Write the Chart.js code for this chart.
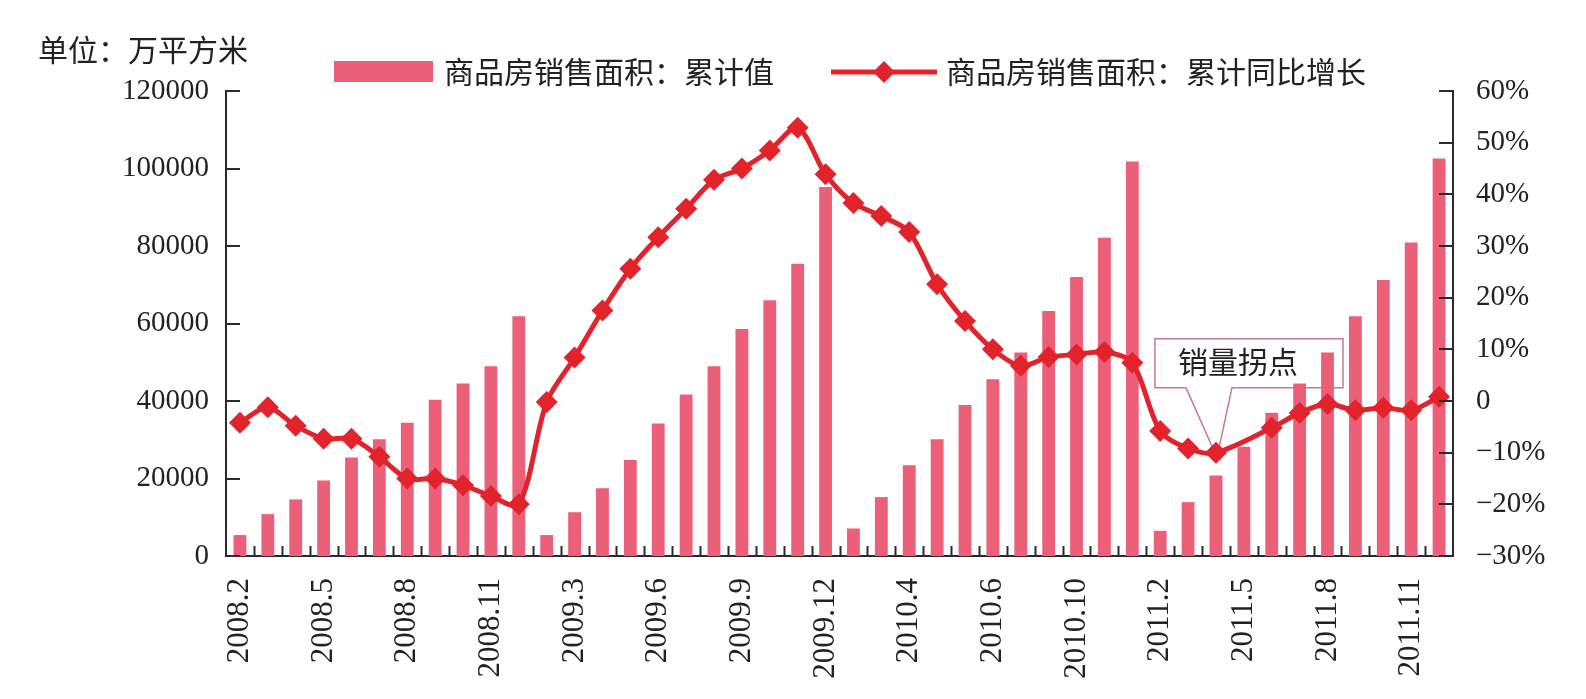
<!DOCTYPE html>
<html>
<head>
<meta charset="utf-8">
<script src="https://cdn.jsdelivr.net/npm/chart.js@4.4.1/dist/chart.umd.min.js"></script>
<style>
  html, body { margin: 0; padding: 0; background: #fff; }
  #wrap { width: 1586px; height: 699px; }
</style>
</head>
<body>
<div id="wrap"><canvas id="salesChart"></canvas></div>
<script>
// monthly data, Jan is merged into Feb in the source stats
const categories = [
  '2008.2', '2008.3', '2008.4', '2008.5', '2008.6', '2008.7', '2008.8', '2008.9', '2008.10', '2008.11', '2008.12',
  '2009.2', '2009.3', '2009.4', '2009.5', '2009.6', '2009.7', '2009.8', '2009.9', '2009.10', '2009.11', '2009.12',
  '2010.2', '2010.3', '2010.4', '2010.5', '2010.6', '2010.7', '2010.8', '2010.9', '2010.10', '2010.11', '2010.12',
  '2011.2', '2011.3', '2011.4', '2011.5', '2011.6', '2011.7', '2011.8', '2011.9', '2011.10', '2011.11', '2011.12'
];
// labels shown under every third bar (as printed in the original)
const tickLabels = ['2008.2', '2008.5', '2008.8', '2008.11', '2009.3', '2009.6', '2009.9', '2009.12',
  '2010.4', '2010.6', '2010.10', '2011.2', '2011.5', '2011.8', '2011.11'];

// 商品房销售面积：累计值 (万平方米)
const salesArea = [
  5400, 10800, 14600, 19500, 25400, 30100, 34400, 40300, 44500, 49000, 61900,
  5400, 11300, 17500, 24800, 34200, 41700, 49000, 58600, 66000, 75400, 95200,
  7100, 15200, 23400, 30100, 39000, 45600, 52500, 63200, 72000, 82100, 101800,
  6500, 13900, 20800, 28200, 37000, 44500, 52500, 61900, 71200, 80900, 102600
];
// 商品房销售面积：累计同比增长 (%)
const salesGrowth = [
  -4.2, -1.2, -4.8, -7.3, -7.3, -10.8, -15.0, -15.0, -16.3, -18.4, -20.0,
  -0.2, 8.4, 17.5, 25.6, 31.7, 37.2, 42.8, 45.0, 48.5, 52.9, 43.9,
  38.3, 35.8, 32.7, 22.6, 15.5, 10.0, 6.8, 8.5, 9.0, 9.5, 7.4,
  -5.8, -9.2, -10.0, null, -5.2, -2.3, -0.6, -1.8, -1.3, -1.8, 0.8
];

const areaTicks = [0, 20000, 40000, 60000, 80000, 100000, 120000];
const growthTicks = [-30, -20, -10, 0, 10, 20, 30, 40, 50, 60];

const unitText = '单位：万平方米';
const turnIndex = 35;
const turnText = '销量拐点';

const barColor = '#ec5f79';
const lineColor = '#e3232b';
const axisColor = '#2b2b2b';
const textColor = '#222';
const serif = "'Liberation Serif', 'Times New Roman', 'Noto Sans CJK SC', serif";
const cjk = "'Noto Sans CJK SC', 'Liberation Serif', serif";

function drawDiamond(ctx, x, y, r) {
  ctx.beginPath();
  ctx.moveTo(x - r, y);
  ctx.lineTo(x, y - r);
  ctx.lineTo(x + r, y);
  ctx.lineTo(x, y + r);
  ctx.closePath();
  ctx.fill();
}

// callout box, drawn under the bars
const calloutPlugin = {
  id: 'callout',
  beforeDatasetsDraw(chart) {
    const ctx = chart.ctx;
    const x = chart.scales.x.getPixelForValue(turnIndex);
    const y = chart.scales.y1.getPixelForValue(salesGrowth[turnIndex]);
    const left = x - 61, right = x + 127, top = y - 114, bottom = y - 65;
    ctx.save();
    ctx.strokeStyle = '#c87890';
    ctx.lineWidth = 1.5;
    ctx.beginPath();
    ctx.moveTo(x - 30, bottom);
    ctx.lineTo(left, bottom);
    ctx.lineTo(left, top);
    ctx.lineTo(right, top);
    ctx.lineTo(right, bottom);
    ctx.lineTo(x + 16, bottom);
    ctx.lineTo(x + 1, y + 5);
    ctx.lineTo(x - 30, bottom);
    ctx.stroke();
    ctx.fillStyle = textColor;
    ctx.font = '30px ' + cjk;
    ctx.textAlign = 'center';
    ctx.textBaseline = 'middle';
    ctx.fillText(turnText, x + 22, y - 91);
    ctx.restore();
  }
};

// inward tick marks, legend and unit label
const decorPlugin = {
  id: 'decor',
  afterDraw(chart) {
    const ctx = chart.ctx;
    const area = chart.chartArea;
    const y = chart.scales.y, y1 = chart.scales.y1;
    ctx.save();
    ctx.strokeStyle = axisColor;
    ctx.lineWidth = 2;
    ctx.beginPath();
    const n = categories.length;
    for (let i = 1; i < n; i++) {
      const px = Math.round(area.left + i * (area.right - area.left) / n) + 0.5;
      ctx.moveTo(px, area.bottom);
      ctx.lineTo(px, area.bottom - 10);
    }
    areaTicks.forEach(v => {
      const py = Math.round(y.getPixelForValue(v));
      ctx.moveTo(area.left, py);
      ctx.lineTo(area.left + 14, py);
    });
    growthTicks.forEach(v => {
      const py = Math.round(y1.getPixelForValue(v));
      ctx.moveTo(area.right, py);
      ctx.lineTo(area.right - 14, py);
    });
    ctx.stroke();

    // unit
    ctx.fillStyle = textColor;
    ctx.font = '30px ' + cjk;
    ctx.textBaseline = 'middle';
    ctx.textAlign = 'left';
    ctx.fillText(unitText, 38, 50);

    // legend
    const ds = chart.data.datasets;
    ctx.fillStyle = barColor;
    ctx.fillRect(334, 61, 99, 21);
    ctx.fillStyle = textColor;
    ctx.fillText(ds[1].label, 444, 72);

    ctx.strokeStyle = lineColor;
    ctx.lineWidth = 5;
    ctx.beginPath();
    ctx.moveTo(831, 72);
    ctx.lineTo(937, 72);
    ctx.stroke();
    ctx.fillStyle = lineColor;
    drawDiamond(ctx, 884, 72, 11);
    ctx.fillStyle = textColor;
    ctx.fillText(ds[0].label, 946, 72);
    ctx.restore();
  }
};

const ctx = document.getElementById('salesChart').getContext('2d');

const salesChart = new Chart(ctx, {
  data: {
    labels: categories,
    datasets: [
      {
        type: 'line',
        label: '商品房销售面积：累计同比增长',
        data: salesGrowth,
        yAxisID: 'y1',
        borderColor: lineColor,
        backgroundColor: lineColor,
        borderWidth: 5,
        tension: 0.3,
        spanGaps: true,
        pointStyle: 'rectRot',
        pointRadius: 11,
        pointBorderWidth: 0,
        pointBackgroundColor: lineColor,
        order: 0
      },
      {
        type: 'bar',
        label: '商品房销售面积：累计值',
        data: salesArea,
        yAxisID: 'y',
        backgroundColor: barColor,
        categoryPercentage: 1,
        barPercentage: 0.46,
        order: 1
      }
    ]
  },
  options: {
    responsive: true,
    maintainAspectRatio: false,
    animation: false,
    layout: {
      padding: { top: 91, left: 0, right: 0, bottom: 0 }
    },
    plugins: {
      legend: { display: false },
      tooltip: { enabled: false }
    },
    scales: {
      x: {
        grid: { display: false, drawTicks: false },
        border: { display: true, color: axisColor, width: 2 },
        ticks: {
          autoSkip: false,
          minRotation: 90,
          maxRotation: 90,
          padding: 22,
          color: textColor,
          font: { family: serif, size: 31 },
          callback: function (value, index) {
            return index % 3 === 0 ? tickLabels[index / 3] : '';
          }
        },
        afterFit: function (scale) { scale.height = 699 - 556; }
      },
      y: {
        position: 'left',
        min: 0,
        max: 120000,
        grid: { display: false, drawTicks: false },
        border: { display: true, color: axisColor, width: 2 },
        ticks: {
          stepSize: 20000,
          padding: 17,
          color: textColor,
          font: { family: serif, size: 29 },
          callback: function (value) { return String(value); }
        },
        afterFit: function (scale) { scale.width = 226; }
      },
      y1: {
        position: 'right',
        min: -30,
        max: 60,
        grid: { display: false, drawTicks: false },
        border: { display: true, color: axisColor, width: 2 },
        ticks: {
          stepSize: 10,
          padding: 23,
          color: textColor,
          font: { family: serif, size: 29 },
          callback: function (value) {
            if (value === 0) return '0';
            return (value < 0 ? '\u2212' + Math.abs(value) : value) + '%';
          }
        },
        afterFit: function (scale) { scale.width = 1586 - 1453; }
      }
    }
  },
  plugins: [calloutPlugin, decorPlugin]
});
</script>
</body>
</html>
